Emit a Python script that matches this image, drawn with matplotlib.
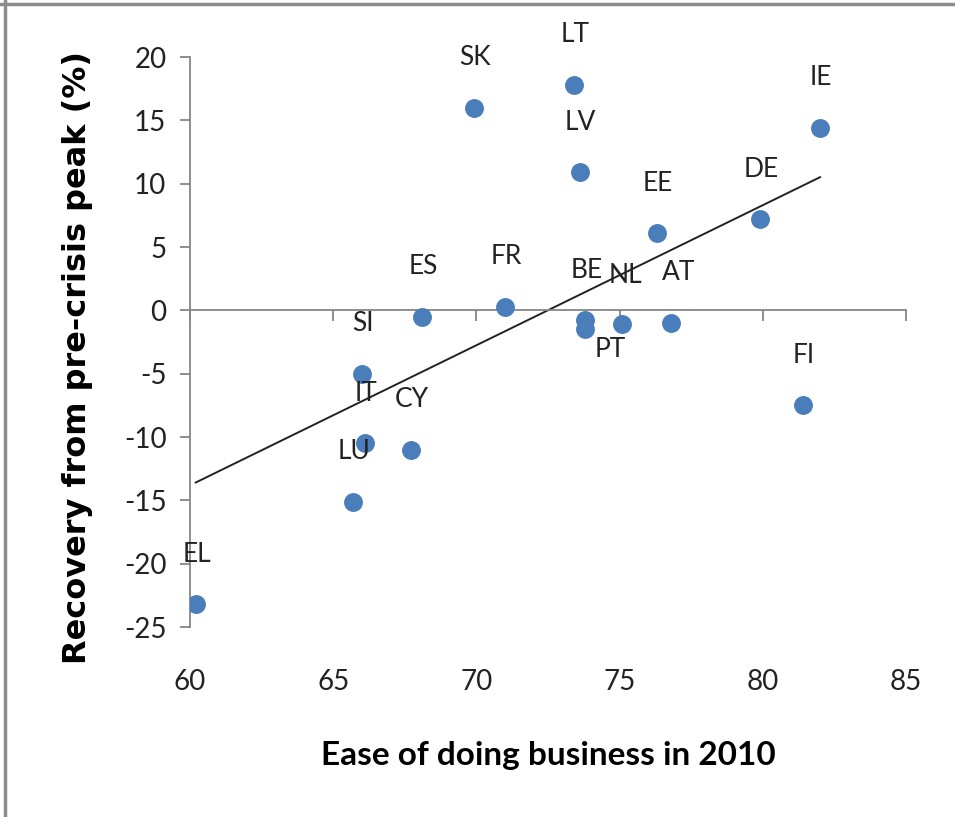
import matplotlib
matplotlib.use("Agg")
import matplotlib.pyplot as plt
from matplotlib.lines import Line2D
import numpy as np

# ---- data ----
countries = ["EL", "LU", "IT", "SI", "CY", "ES", "FR", "SK", "LT", "LV",
             "BE", "PT", "NL", "AT", "EE", "DE", "IE", "FI"]
ease_2010 = [60.2, 65.7, 66.1, 66.0, 67.7, 68.1, 71.0, 69.9, 73.4, 73.6,
             73.8, 73.8, 75.1, 76.8, 76.3, 79.9, 82.0, 81.4]
recovery = [-23.2, -15.1, -10.5, -5.0, -11.0, -0.5, 0.3, 16.0, 17.8, 10.9,
            -0.8, -1.5, -1.1, -1.0, 6.1, 7.2, 14.4, -7.5]
x_ticks = [60, 65, 70, 75, 80, 85]
y_ticks = [20, 15, 10, 5, 0, -5, -10, -15, -20, -25]

# ---- style ----
plt.rcParams['font.family'] = ['Lato', 'DejaVu Sans']
plt.rcParams['axes.unicode_minus'] = False
axis_grey = '#868686'
dot_color = '#4a7ebb'
label_offsets = {"PT": (25, -20), "NL": (3, 49), "AT": (7, 50)}
default_offset = (1, 50)
txt = '#222222'

fig = plt.figure(figsize=(9.55, 8.17), dpi=100)
ax = fig.add_axes([190/955, (817-627)/817, (906-190)/955, (627-57)/817])

ax.set_xlim(60, 85)
ax.set_ylim(-25, 20)

# trendline (least squares over the data range)
slope, intercept = np.polyfit(ease_2010, recovery, 1)
xl = np.array([min(ease_2010), max(ease_2010)])
ax.plot(xl, slope * xl + intercept, color=txt, lw=1.4, zorder=2)

ax.scatter(ease_2010, recovery, s=185, color=dot_color, zorder=3, linewidths=0)

for c, xv, yv in zip(countries, ease_2010, recovery):
    dx, dy = label_offsets.get(c, default_offset)
    ax.annotate(c, (xv, yv), xytext=(dx, dy), textcoords='offset pixels',
                ha='center', va='center', fontsize=19, color=txt, zorder=4)

# spines
for s in ['top', 'right']:
    ax.spines[s].set_visible(False)
ax.spines['left'].set_color(axis_grey)
ax.spines['left'].set_linewidth(1.3)
ax.spines['bottom'].set_position(('data', 0))
ax.spines['bottom'].set_color(axis_grey)
ax.spines['bottom'].set_linewidth(1.3)

ax.set_yticks(y_ticks)
ax.tick_params(axis='y', direction='out', length=7, width=1.3, color=axis_grey,
               labelsize=20, pad=10, labelcolor=txt)
ax.set_xticks(x_ticks)
ax.tick_params(axis='x', direction='out', length=8, width=1.3, color=axis_grey,
               labelbottom=False)

sec = ax.secondary_xaxis('bottom')
sec.set_xticks(x_ticks)
sec.spines['bottom'].set_visible(False)
sec.tick_params(axis='x', length=0, labelsize=20, pad=30, labelcolor=txt)
sec.set_xlabel('Ease of doing business in 2010', fontsize=24, fontweight='bold',
               labelpad=33)

ax.set_ylabel('Recovery from pre-crisis peak (%)', fontsize=23, fontweight='bold',
              family=['DejaVu Sans'], va='center')
ax.yaxis.set_label_coords((78 - 190) / 716, (627 - 358) / 570)

# outer frame lines (top and left)
fig.add_artist(Line2D([0, 1], [1 - 4/817, 1 - 4/817], transform=fig.transFigure,
                      color='#8c8c8c', lw=2.5))
fig.add_artist(Line2D([5/955, 5/955], [0, 1], transform=fig.transFigure,
                      color='#8c8c8c', lw=2.5))

fig.savefig('out.png', dpi=100)
